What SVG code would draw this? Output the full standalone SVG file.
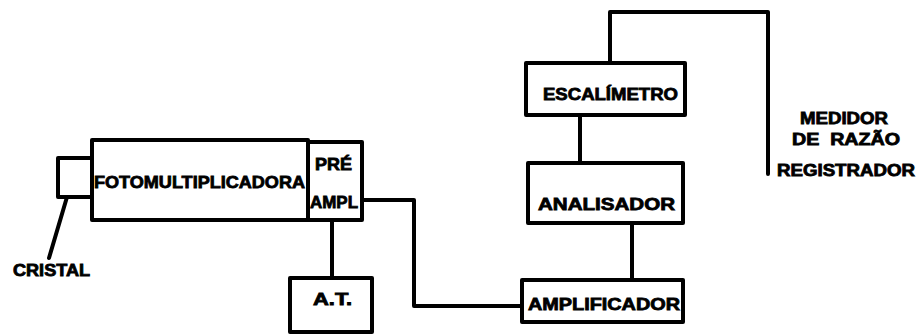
<svg xmlns="http://www.w3.org/2000/svg" width="919" height="336" viewBox="0 0 919 336">
<style>
.box{fill:#fff;stroke:#000;stroke-width:4;stroke-linejoin:round}
.wire{fill:none;stroke:#000;stroke-width:4;stroke-linejoin:round;stroke-linecap:round}
text{font-family:"Liberation Sans",Arial,sans-serif;font-weight:bold;fill:#000;stroke:#000;stroke-width:0.8}
.t{font-size:17px}
</style>
<rect width="919" height="336" fill="#fff"/>
<g id="connectors">
<path class="wire" d="M67,197 L49,258"/>
<path class="wire" d="M361,200 L414,200 L414,306 L522,306"/>
<path class="wire" d="M332,220 L332,279"/>
<path class="wire" d="M632,223 L632,280"/>
<path class="wire" d="M580,115 L580,163"/>
<path class="wire" d="M610,63 L610,12 L768,12 L768,174"/>
</g>
<g id="cristal">
<rect class="box" x="58" y="158" width="34" height="39"/>
<text x="13" y="276" textLength="77" lengthAdjust="spacingAndGlyphs" font-size="16">CRISTAL</text>
</g>
<g id="fotomultiplicadora">
<rect class="box" x="92" y="140" width="216" height="80"/>
<text class="t" x="94" y="188" textLength="211" lengthAdjust="spacingAndGlyphs">FOTOMULTIPLICADORA</text>
</g>
<g id="preampl">
<rect class="box" x="308" y="142" width="54" height="78"/>
<text class="t" x="315" y="170" textLength="37" lengthAdjust="spacingAndGlyphs">PRÉ</text>
<text class="t" x="310" y="208" textLength="48" lengthAdjust="spacingAndGlyphs">AMPL</text>
</g>
<g id="at">
<rect class="box" x="290" y="278" width="82" height="54"/>
<text class="t" x="313" y="305" textLength="39" lengthAdjust="spacingAndGlyphs">A.T.</text>
</g>
<g id="amplificador">
<rect class="box" x="522" y="280" width="161" height="42"/>
<text class="t" x="528" y="310" textLength="152" lengthAdjust="spacingAndGlyphs">AMPLIFICADOR</text>
</g>
<g id="analisador">
<rect class="box" x="528" y="163" width="155" height="60"/>
<text class="t" x="538" y="210" textLength="137" lengthAdjust="spacingAndGlyphs">ANALISADOR</text>
</g>
<g id="escalimetro">
<rect class="box" x="526" y="63" width="159" height="52"/>
<text class="t" x="543" y="100" textLength="135" lengthAdjust="spacingAndGlyphs">ESCALÍMETRO</text>
</g>
<g id="medidor">
<text x="800" y="124" textLength="88" lengthAdjust="spacingAndGlyphs" font-size="16">MEDIDOR</text>
<text x="792" y="145" textLength="108" lengthAdjust="spacingAndGlyphs" font-size="16" xml:space="preserve">DE  RAZÃO</text>
<text x="777" y="176" textLength="138" lengthAdjust="spacingAndGlyphs" font-size="16">REGISTRADOR</text>
</g>
</svg>
